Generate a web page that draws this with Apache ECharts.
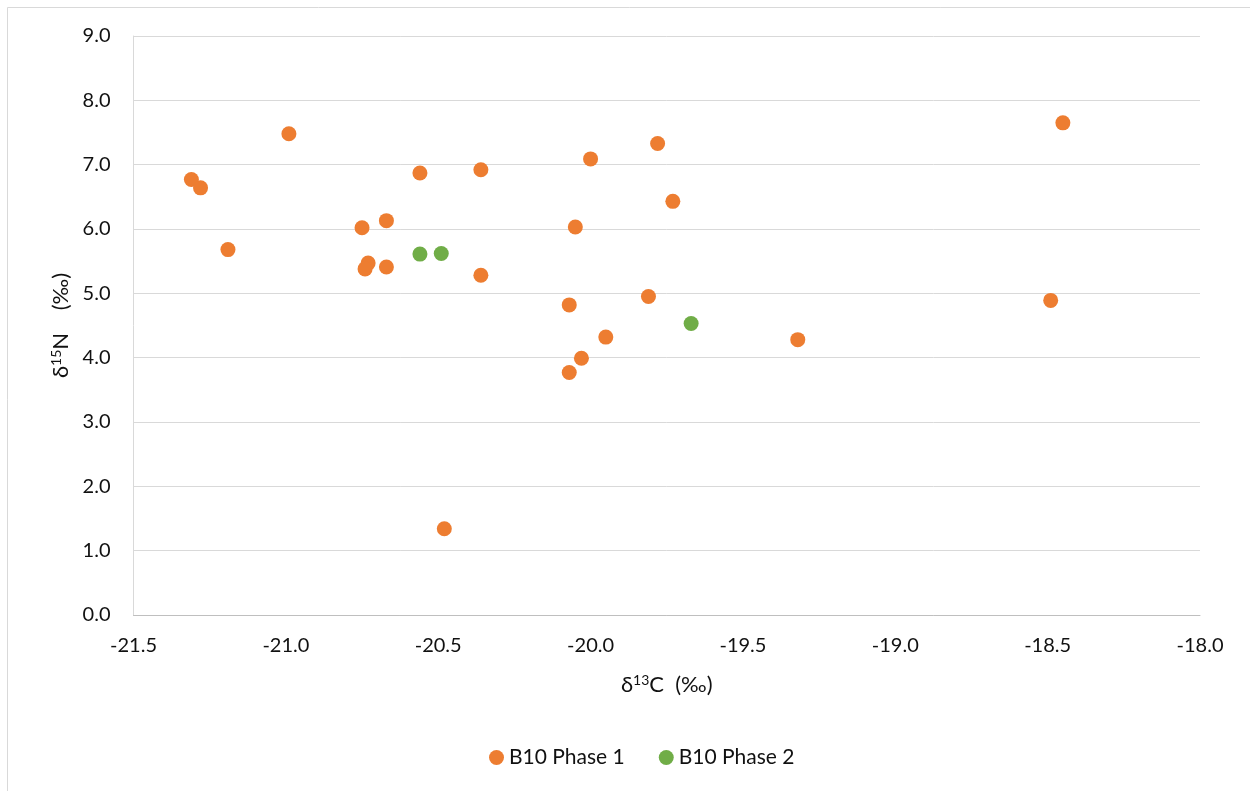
<!DOCTYPE html>
<html>
<head>
<meta charset="utf-8">
<title>B10 δ13C vs δ15N</title>
<script src="https://cdn.jsdelivr.net/npm/echarts@6/dist/echarts.min.js"></script>
<style>
  html, body { margin: 0; padding: 0; background: #ffffff; }
  #chart { width: 1250px; height: 791px; }
</style>
</head>
<body>
<div id="chart"></div>
<script>
// δ13C (‰) and δ15N (‰) per sample, by phase
const phase1C = [-20.99, -21.31, -21.28, -21.19, -20.75, -20.67, -20.73, -20.74, -20.67,
                 -20.56, -20.36, -20.36, -20.00, -19.78, -19.73, -20.05, -20.07, -19.81,
                 -19.95, -20.03, -20.07, -19.32, -20.48, -18.45, -18.49];
const phase1N = [7.48, 6.77, 6.64, 5.68, 6.02, 6.13, 5.47, 5.38, 5.41,
                 6.87, 6.92, 5.28, 7.09, 7.33, 6.43, 6.03, 4.82, 4.95,
                 4.32, 3.99, 3.77, 4.28, 1.34, 7.65, 4.89];
const phase2C = [-20.56, -20.49, -19.67];
const phase2N = [5.61, 5.62, 4.53];

const seriesNames = ['B10 Phase 1', 'B10 Phase 2'];
const xTickMin = -21.5, xTickMax = -18.0, xTickStep = 0.5;
const yTickMin = 0.0, yTickMax = 9.0, yTickStep = 1.0;

const pairs = (xs, ys) => xs.map((x, i) => [x, ys[i]]);

const textColor = '#111111';
const font = 'Lato, "Open Sans", sans-serif';
const supStyle = { fontSize: 14, verticalAlign: 'top', padding: [0, 0, 9, 0], color: textColor, fontFamily: font };

const chart = echarts.init(document.getElementById('chart'), null, { renderer: 'canvas' });
chart.setOption({
  backgroundColor: '#ffffff',
  animation: false,
  color: ['#ED7D31', '#70AD47'],
  graphic: [{
    type: 'rect',
    shape: { x: 7.5, y: 7.5, width: 1260, height: 800 },
    style: { fill: 'none', stroke: '#d9d9d9', lineWidth: 1 },
    silent: true
  }],
  grid: { left: 133.5, right: 50, top: 36, bottom: 176, containLabel: false },
  legend: {
    data: seriesNames,
    top: 742,
    left: 484,
    itemWidth: 15,
    itemHeight: 15,
    itemGap: 34,
    icon: 'circle',
    textStyle: { fontSize: 21, color: textColor, fontFamily: font }
  },
  xAxis: {
    type: 'value',
    min: xTickMin, max: xTickMax, interval: xTickStep,
    name: 'δ{sup|13}C  (‰)',
    nameLocation: 'middle',
    nameGap: 58,
    nameTextStyle: { fontSize: 22, color: textColor, fontFamily: font, rich: { sup: supStyle } },
    axisLine: { show: true, onZero: false, lineStyle: { color: '#bfbfbf', width: 1 } },
    axisTick: { show: false },
    splitLine: { show: false },
    axisLabel: {
      margin: 21,
      fontSize: 20, color: textColor, fontFamily: font,
      formatter: v => v.toFixed(1)
    }
  },
  yAxis: {
    type: 'value',
    min: yTickMin, max: yTickMax, interval: yTickStep,
    name: 'δ{sup|15}N    (‰)',
    nameLocation: 'middle',
    nameRotate: 90,
    nameGap: 58,
    nameTextStyle: { fontSize: 22, color: textColor, fontFamily: font, rich: { sup: supStyle } },
    axisLine: { show: true, lineStyle: { color: '#d9d9d9', width: 1 } },
    axisTick: { show: false },
    splitLine: { show: true, lineStyle: { color: '#d9d9d9', width: 1 } },
    axisLabel: {
      margin: 23,
      fontSize: 20, color: textColor, fontFamily: font,
      formatter: v => v.toFixed(1)
    }
  },
  series: [
    {
      name: seriesNames[0],
      type: 'scatter',
      symbol: 'circle',
      symbolSize: 15,
      itemStyle: { color: '#ED7D31', opacity: 1 },
      data: pairs(phase1C, phase1N)
    },
    {
      name: seriesNames[1],
      type: 'scatter',
      symbol: 'circle',
      symbolSize: 15,
      itemStyle: { color: '#70AD47', opacity: 1 },
      data: pairs(phase2C, phase2N)
    }
  ]
});
</script>
</body>
</html>
